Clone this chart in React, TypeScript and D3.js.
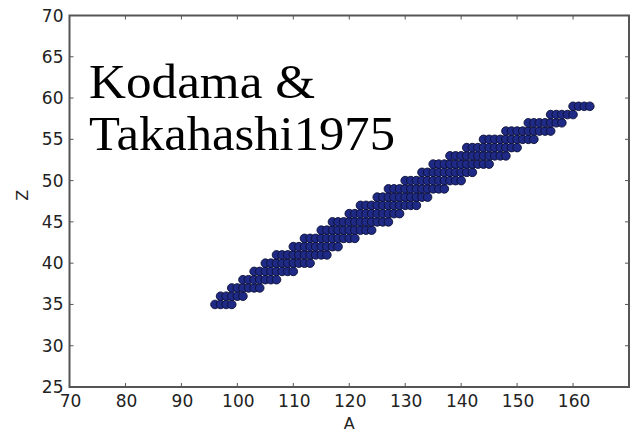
import React from "react";
import * as d3 from "d3";

// Proton number of each row of nuclides and the mass-number range covered in that row
const protonNumbers = [35, 36, 37, 38, 39, 40, 41, 42, 43, 44, 45, 46, 47, 48, 49, 50, 51, 52, 53, 54, 55, 56, 57, 58, 59];
const massLow = [96, 97, 99, 101, 103, 105, 107, 110, 112, 115, 117, 120, 122, 125, 127, 130, 133, 135, 138, 141, 144, 148, 152, 156, 160];
const massHigh = [99, 101, 104, 107, 110, 113, 116, 118, 121, 124, 127, 129, 132, 134, 137, 140, 142, 145, 148, 150, 153, 156, 158, 160, 163];

const xTicks = [70, 80, 90, 100, 110, 120, 130, 140, 150, 160];
const yTicks = [25, 30, 35, 40, 45, 50, 55, 60, 65, 70];

const annotationLines = ["Kodama &", "Takahashi1975"];
const annotationWidths = [226, 306];

export default function App() {
  const W = 635;
  const H = 433;
  const left = 69.5;
  const right = 629;
  const top = 15.5;
  const bottom = 387;

  const x = d3.scaleLinear().domain([70, 170]).range([left, right]);
  const y = d3.scaleLinear().domain([25, 70]).range([bottom, top]);

  const points = protonNumbers.flatMap((z, i) =>
    d3.range(massLow[i], massHigh[i] + 1).map((a) => ({ a, z }))
  );

  const axisColor = "#555";
  const tickLen = 4;
  const labelFont = "'DejaVu Sans', sans-serif";

  return (
    <svg
      width={W}
      height={H}
      viewBox={`0 0 ${W} ${H}`}
      style={{ position: "fixed", left: 0, top: 0, background: "#fff" }}
    >
      <rect x={0} y={0} width={W} height={H} fill="#fff" />

      {/* nuclide markers */}
      <g>
        {points.map((p, i) => (
          <circle
            key={i}
            cx={x(p.a)}
            cy={y(p.z)}
            r={4.3}
            fill="#1f2a86"
            stroke="#0c1033"
            strokeWidth={0.9}
          />
        ))}
      </g>

      {/* inward ticks on all four sides */}
      <g stroke={axisColor} strokeWidth={1}>
        {xTicks.map((t) => (
          <g key={`xt${t}`}>
            <line x1={x(t)} x2={x(t)} y1={bottom} y2={bottom - tickLen} />
            <line x1={x(t)} x2={x(t)} y1={top} y2={top + tickLen} />
          </g>
        ))}
        {yTicks.map((t) => (
          <g key={`yt${t}`}>
            <line x1={left} x2={left + tickLen} y1={y(t)} y2={y(t)} />
            <line x1={right} x2={right - tickLen} y1={y(t)} y2={y(t)} />
          </g>
        ))}
      </g>

      {/* frame */}
      <rect
        x={left}
        y={top}
        width={right - left}
        height={bottom - top}
        fill="none"
        stroke={axisColor}
        strokeWidth={2}
      />

      {/* tick labels */}
      <g fontFamily={labelFont} fontSize={17} fill="#222">
        {xTicks.map((t) => (
          <text key={`xl${t}`} x={x(t) + 1} y={bottom + 20} textAnchor="middle">
            {t}
          </text>
        ))}
        {yTicks.map((t) => (
          <text key={`yl${t}`} x={left - 6} y={y(t) + 6} textAnchor="end">
            {t}
          </text>
        ))}
      </g>

      {/* axis titles */}
      <text
        x={(left + right) / 2}
        y={429}
        textAnchor="middle"
        fontFamily={labelFont}
        fontSize={16}
        fill="#222"
      >
        A
      </text>
      <text
        transform={`translate(28, ${(top + bottom) / 2 - 6}) rotate(-90)`}
        textAnchor="middle"
        fontFamily={labelFont}
        fontSize={16}
        fill="#222"
      >
        Z
      </text>

      {/* annotation */}
      <g fontFamily="'Liberation Serif', serif" fontSize={49} fill="#000">
        {annotationLines.map((line, i) => (
          <text
            key={i}
            x={89}
            y={98 + i * 52}
            textLength={annotationWidths[i]}
            lengthAdjust="spacingAndGlyphs"
          >
            {line}
          </text>
        ))}
      </g>
    </svg>
  );
}
